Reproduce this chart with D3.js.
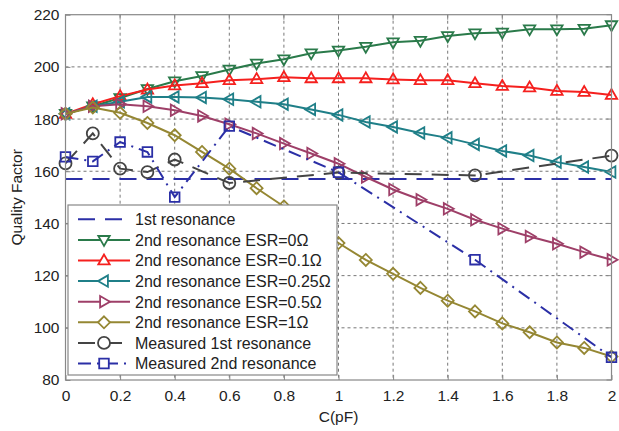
<!DOCTYPE html>
<html>
<head>
<meta charset="utf-8">
<script src="https://cdn.jsdelivr.net/npm/d3@7"></script>
<style>
  body { margin: 0; background: #fff; }
  svg text { font-family: "Liberation Sans", Arial, sans-serif; fill: #222; }
</style>
</head>
<body>
<div id="chart"></div>
<script>
// capacitance values (pF) for the simulated curves
const capPF = [0, 0.1, 0.2, 0.3, 0.4, 0.5, 0.6, 0.7, 0.8, 0.9, 1.0,
               1.1, 1.2, 1.3, 1.4, 1.5, 1.6, 1.7, 1.8, 1.9, 2.0];
const qEsr0   = [182, 184.9, 188.1, 191.5, 194.5, 196.5, 199, 201.3, 202.9, 205.2, 206.3,
                 207.7, 209.4, 210, 211.8, 212.9, 213.2, 214.4, 214.4, 214.6, 216];
const qEsr01  = [182, 185.7, 188.8, 191.3, 192.9, 193.7, 194.9, 195.3, 196, 195.6, 195.6,
                 195.6, 195.2, 194.9, 194.9, 193.7, 192.7, 192.1, 190.8, 190.4, 189.2];
const qEsr025 = [182, 184.9, 186.6, 188.5, 188.5, 188.3, 187.6, 186.6, 185.7, 183.7, 181.6,
                 178.9, 177, 174.7, 172.8, 170.3, 167.8, 166, 163.5, 161.6, 159.7];
const qEsr05  = [182, 184.9, 185.7, 184.9, 183.4, 181.2, 178, 174.5, 170.6, 166.8, 162.9,
                 157.8, 153, 149.1, 145.6, 141.4, 138, 135, 132.2, 129, 126.1];
const qEsr1   = [182, 184.4, 182.4, 178.5, 173.8, 167.4, 161, 153.5, 146.5, 139.5, 132.5,
                 126, 120.7, 115.3, 110.4, 106.3, 101.7, 98.3, 94.4, 92.3, 89];

// measured points
const measCap1 = [0, 0.1, 0.2, 0.3, 0.4, 0.6, 1.0, 1.5, 2.0];
const measQ1   = [163, 174.5, 161, 159.7, 164.5, 155.5, 159.5, 158.4, 166];
const measCap2 = [0, 0.1, 0.2, 0.3, 0.4, 0.6, 1.0, 1.5, 2.0];
const measQ2   = [165.5, 163.8, 171.2, 167.4, 150.1, 177.3, 159.6, 126.1, 88.7];

// 1st resonance (flat)
const firstResCap = [0, 2];
const firstResQ = [157, 157];

const xTicks = [0, 0.2, 0.4, 0.6, 0.8, 1, 1.2, 1.4, 1.6, 1.8, 2];
const yTicks = [80, 100, 120, 140, 160, 180, 200, 220];

const seriesNames = ["1st resonance", "2nd resonance ESR=0\u03A9", "2nd resonance ESR=0.1\u03A9",
  "2nd resonance ESR=0.25\u03A9", "2nd resonance ESR=0.5\u03A9", "2nd resonance ESR=1\u03A9",
  "Measured 1st resonance", "Measured 2nd resonance"];

let W = 619, H = 431;
let margin = {top: 14.7, right: 7.5, bottom: 51, left: 65.5};
let width = W - margin.left - margin.right;
let height = H - margin.top - margin.bottom;

let svg = d3.select("#chart").append("svg").attr("width", W).attr("height", H);
let g = svg.append("g").attr("transform", "translate(" + margin.left + "," + margin.top + ")");

let x = d3.scaleLinear().domain([0, 2]).range([0, width]);
let y = d3.scaleLinear().domain([80, 220]).range([height, 0]);

// grid
g.append("g").selectAll("line").data(xTicks.slice(1, -1)).enter().append("line")
  .attr("x1", d => x(d)).attr("x2", d => x(d)).attr("y1", 0).attr("y2", height)
  .attr("stroke", "#777").attr("stroke-dasharray", "3,3").attr("stroke-width", 1);
g.append("g").selectAll("line").data(yTicks.slice(1, -1)).enter().append("line")
  .attr("y1", d => y(d)).attr("y2", d => y(d)).attr("x1", 0).attr("x2", width)
  .attr("stroke", "#777").attr("stroke-dasharray", "3,3").attr("stroke-width", 1);

// markers
function markerPath(kind, r) {
  if (kind === "tdown") return "M0," + r + "L" + (-r * 0.95) + "," + (-r * 0.65) + "L" + (r * 0.95) + "," + (-r * 0.65) + "Z";
  if (kind === "tup") return "M0," + (-r) + "L" + (-r * 0.95) + "," + (r * 0.65) + "L" + (r * 0.95) + "," + (r * 0.65) + "Z";
  if (kind === "tleft") return "M" + (-r) + ",0L" + (r * 0.65) + "," + (-r * 0.95) + "L" + (r * 0.65) + "," + (r * 0.95) + "Z";
  if (kind === "tright") return "M" + r + ",0L" + (-r * 0.65) + "," + (-r * 0.95) + "L" + (-r * 0.65) + "," + (r * 0.95) + "Z";
  if (kind === "diamond") return "M0," + (-r) + "L" + r + ",0L0," + r + "L" + (-r) + ",0Z";
  if (kind === "square") { let s = r * 0.8; return "M" + (-s) + "," + (-s) + "H" + s + "V" + s + "H" + (-s) + "Z"; }
  if (kind === "circle") return d3.arc()({innerRadius: 0, outerRadius: r, startAngle: 0, endAngle: 2 * Math.PI});
  return "";
}

let series = [
  {name: seriesNames[0], cx: firstResCap, q: firstResQ, color: "#2b2fa6", dash: "17,10", marker: null},
  {name: seriesNames[1], cx: capPF, q: qEsr0, color: "#2a7a4a", dash: null, marker: "tdown"},
  {name: seriesNames[2], cx: capPF, q: qEsr01, color: "#f5201e", dash: null, marker: "tup"},
  {name: seriesNames[3], cx: capPF, q: qEsr025, color: "#1f7f88", dash: null, marker: "tleft"},
  {name: seriesNames[4], cx: capPF, q: qEsr05, color: "#9e3f68", dash: null, marker: "tright"},
  {name: seriesNames[5], cx: capPF, q: qEsr1, color: "#958733", dash: null, marker: "diamond"},
  {name: seriesNames[6], cx: measCap1, q: measQ1, color: "#444444", dash: "17,10", marker: "circle"},
  {name: seriesNames[7], cx: measCap2, q: measQ2, color: "#2b2fa6", dash: "13,6,2,6", marker: "square"}
];

let line = d3.line().x(d => x(d[0])).y(d => y(d[1]));

series.forEach(s => {
  let pts = s.cx.map((c, i) => [c, s.q[i]]);
  g.append("path").datum(pts).attr("d", line)
    .attr("fill", "none").attr("stroke", s.color).attr("stroke-width", 2)
    .attr("stroke-dasharray", s.dash);
  if (s.marker) {
    g.append("g").selectAll("path").data(pts).enter().append("path")
      .attr("d", markerPath(s.marker, 6))
      .attr("transform", d => "translate(" + x(d[0]) + "," + y(d[1]) + ")")
      .attr("fill", "none").attr("stroke", s.color).attr("stroke-width", 1.8);
  }
});

// frame + axes
g.append("rect").attr("width", width).attr("height", height)
  .attr("fill", "none").attr("stroke", "#888").attr("stroke-width", 1.2);

let xAxis = g.append("g").attr("transform", "translate(0," + height + ")")
  .call(d3.axisBottom(x).tickValues(xTicks).tickSize(-5).tickPadding(10).tickFormat(d3.format("")));
let yAxis = g.append("g")
  .call(d3.axisLeft(y).tickValues(yTicks).tickSize(-5).tickPadding(6));
[xAxis, yAxis].forEach(a => {
  a.select(".domain").remove();
  a.selectAll(".tick line").attr("stroke", "#888");
  a.selectAll(".tick text").attr("font-size", 15.5).attr("fill", "#222")
    .attr("font-family", "Liberation Sans, Arial, sans-serif");
});
// ticks on top and right
g.append("g").selectAll("line").data(xTicks).enter().append("line")
  .attr("x1", d => x(d)).attr("x2", d => x(d)).attr("y1", 0).attr("y2", 5).attr("stroke", "#888");
g.append("g").selectAll("line").data(yTicks).enter().append("line")
  .attr("y1", d => y(d)).attr("y2", d => y(d)).attr("x1", width).attr("x2", width - 5).attr("stroke", "#888");

svg.append("text").attr("x", margin.left + width / 2).attr("y", 422)
  .attr("text-anchor", "middle").attr("font-size", 15.5).text("C(pF)");
svg.append("text").attr("transform", "translate(22," + (margin.top + height / 2) + ") rotate(-90)")
  .attr("text-anchor", "middle").attr("font-size", 15.5).text("Quality Factor");

// legend
let leg = svg.append("g").attr("transform", "translate(68,205)");
leg.append("rect").attr("width", 269).attr("height", 170)
  .attr("fill", "#fff").attr("stroke", "#888").attr("stroke-width", 1.2);
series.forEach((s, i) => {
  let ry = 14.3 + i * 20.6;
  leg.append("line").attr("x1", 10).attr("x2", 62).attr("y1", ry).attr("y2", ry)
    .attr("stroke", s.color).attr("stroke-width", 2).attr("stroke-dasharray", s.dash);
  if (s.marker) {
    leg.append("path").attr("d", markerPath(s.marker, 6))
      .attr("transform", "translate(36," + ry + ")")
      .attr("fill", "#fff").attr("stroke", s.color).attr("stroke-width", 1.8);
  }
  leg.append("text").attr("x", 67).attr("y", ry + 5.8).attr("font-size", 16).text(s.name);
});
</script>
</body>
</html>
